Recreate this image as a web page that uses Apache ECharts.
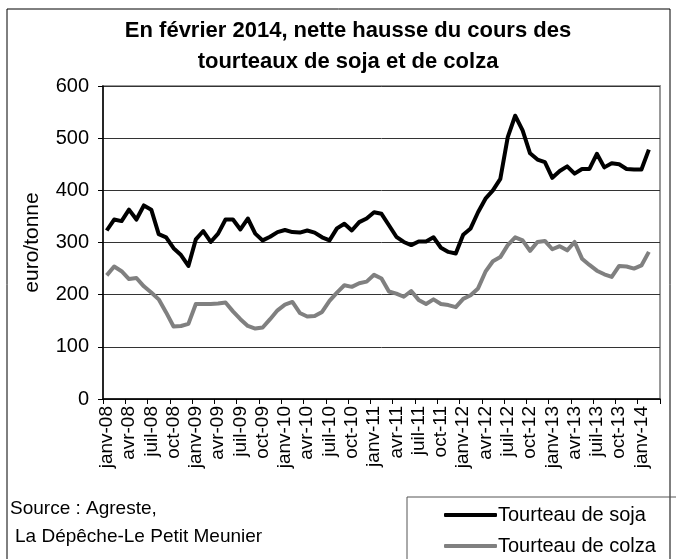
<!DOCTYPE html>
<html>
<head>
<meta charset="utf-8">
<script src="https://cdn.jsdelivr.net/npm/echarts@6/dist/echarts.min.js"></script>
<style>
  html, body { margin: 0; padding: 0; background: #fff; }
  #chart { width: 676px; height: 559px; }
</style>
</head>
<body>
<div id="chart"></div>
<script>
// mois de janv-08 a mars-14 (75 categories, derniere vide)
var monthNames = ['janv', 'févr', 'mars', 'avr', 'mai', 'juin', 'juil', 'août', 'sept', 'oct', 'nov', 'déc']
var years = ['08', '09', '10', '11', '12', '13', '14']

var soja = [
  323, 344, 341, 363, 344, 371, 363, 316, 310, 289, 276, 255,
  306, 322, 301, 317, 344, 344, 325, 346, 317, 304, 311, 320,
  324, 320, 319, 323, 319, 310, 304, 327, 336, 323, 339, 346,
  358, 355, 333, 311, 301, 295, 302, 302, 310, 290, 282, 279,
  315, 327, 358, 384, 400, 422, 502, 543, 515, 471, 459, 454,
  424, 437, 446, 432, 441, 441, 470, 444, 452, 450, 441, 440,
  440, 478, null
]
var colza = [
  237, 254, 245, 230, 232, 216, 204, 191, 166, 139, 140, 144,
  182, 182, 182, 183, 185, 168, 153, 140, 135, 137, 153, 170,
  181, 186, 165, 158, 159, 167, 188, 204, 218, 215, 222, 225,
  238, 231, 206, 202, 196, 207, 190, 182, 191, 182, 180, 176,
  192, 199, 212, 244, 264, 272, 295, 310, 304, 284, 301, 303,
  287, 293, 285, 301, 269, 257, 246, 239, 234, 255, 254, 250,
  256, 282, null
]

var categories = []
years.forEach(function (y) {
  monthNames.forEach(function (m) {
    if (categories.length < soja.length) categories.push(m + '-' + y)
  })
})

var font = 'Liberation Sans, Arial, sans-serif'
var chart = echarts.init(document.getElementById('chart'))
var option = {
  backgroundColor: '#fff',
  animation: false,
  grid: {
    left: 103,
    right: 16,
    top: 86,
    bottom: 160,
    show: true,
    borderColor: '#999',
    borderWidth: 2
  },
  legend: {
    orient: 'vertical',
    left: 439,
    top: 500,
    height: 80,
    itemWidth: 53,
    itemHeight: 4,
    itemGap: 11,
    icon: 'roundRect',
    textStyle: { fontFamily: font, fontSize: 20, color: '#000', padding: [0, 0, 0, -4] },
    data: ['Tourteau de soja', 'Tourteau de colza']
  },
  xAxis: {
    type: 'category',
    data: categories,
    boundaryGap: true,
    axisLine: { lineStyle: { color: '#000', width: 1.5 } },
    axisTick: { show: true, interval: 2, length: 5, lineStyle: { color: '#000' } },
    axisLabel: {
      interval: 2,
      rotate: 90,
      margin: 7,
      fontFamily: font,
      fontSize: 19,
      color: '#000'
    }
  },
  yAxis: {
    type: 'value',
    min: 0,
    max: 600,
    interval: 100,
    name: 'euro/tonne',
    nameLocation: 'middle',
    nameRotate: 90,
    nameGap: 60,
    nameTextStyle: { fontFamily: font, fontSize: 21, color: '#000' },
    axisLine: { show: true, lineStyle: { color: '#000', width: 1.5 } },
    axisTick: { show: true, length: 5, lineStyle: { color: '#000' } },
    axisLabel: { fontFamily: font, fontSize: 20, color: '#000', margin: 14 },
    splitLine: { lineStyle: { color: '#333', width: 1 } }
  },
  series: [
    {
      name: 'Tourteau de soja',
      type: 'line',
      data: soja,
      symbol: 'none',
      color: '#000',
      lineStyle: { color: '#000', width: 4, join: 'round' }
    },
    {
      name: 'Tourteau de colza',
      type: 'line',
      data: colza,
      symbol: 'none',
      color: '#808080',
      lineStyle: { color: '#808080', width: 4, join: 'round' }
    }
  ],
  graphic: [
    {
      type: 'rect',
      shape: { x: 7, y: 9, width: 663, height: 620 },
      style: { fill: null, stroke: '#000', lineWidth: 1 },
      silent: true,
      z: -1
    },
    {
      type: 'rect',
      shape: { x: 407, y: 497, width: 300, height: 100 },
      style: { fill: null, stroke: '#555', lineWidth: 1 },
      silent: true
    },
    {
      type: 'text',
      x: 348,
      y: 15,
      style: {
        text: 'En février 2014, nette hausse du cours des\ntourteaux de soja et de colza',
        font: 'bold 22px ' + font,
        lineHeight: 31,
        textAlign: 'center',
        fill: '#000'
      }
    },
    {
      type: 'text',
      x: 10,
      y: 499,
      style: {
        text: 'Source : Agreste,',
        font: '19px ' + font,
        fill: '#000'
      }
    },
    {
      type: 'text',
      x: 15,
      y: 527,
      style: {
        text: 'La Dépêche-Le Petit Meunier',
        font: '19px ' + font,
        fill: '#000'
      }
    }
  ]
}
chart.setOption(option)
</script>
</body>
</html>
